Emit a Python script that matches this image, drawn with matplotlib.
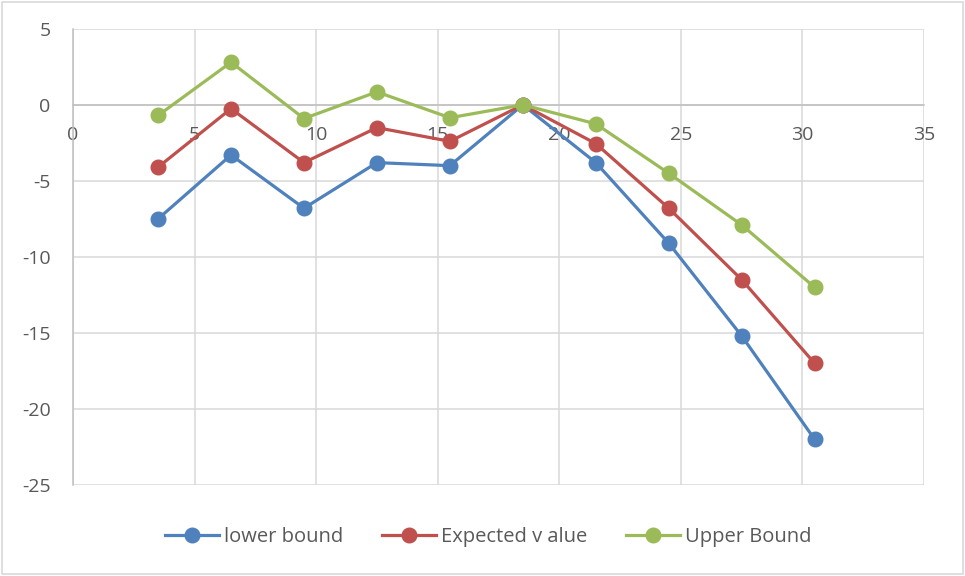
import matplotlib.pyplot as plt
from matplotlib.patches import Rectangle

plt.rcParams['font.family'] = ['Open Sans', 'DejaVu Sans']
plt.rcParams['axes.unicode_minus'] = False

x = [3.5, 6.5, 9.5, 12.5, 15.5, 18.5, 21.5, 24.5, 27.5, 30.5]
lower = [-7.5, -3.3, -6.8, -3.8, -4.0, 0.0, -3.8, -9.1, -15.2, -22.0]
expected = [-4.1, -0.25, -3.8, -1.5, -2.4, 0.0, -2.55, -6.8, -11.5, -17.0]
upper = [-0.7, 2.8, -0.9, 0.85, -0.85, 0.0, -1.25, -4.5, -7.9, -12.0]

labels = ['lower bound', 'Expected v alue', 'Upper Bound']
colors = ['#4F81BD', '#C0504D', '#9BBB59']
text_color = '#595959'

fig = plt.figure(figsize=(9.65, 5.76), dpi=100)
ax = fig.add_axes([0.0756, 0.158, 0.882, 0.792])

for ys, lab, c in zip([lower, expected, upper], labels, colors):
    ax.plot(x, ys, color=c, lw=2.3, marker='o', markersize=10.5,
            label=lab, zorder=3)

ax.set_xlim(0, 35)
ax.set_ylim(-25, 5)
ax.set_xticks(range(0, 36, 5))
ax.set_yticks(range(-25, 6, 5))
ax.grid(True, color='#D9D9D9', lw=1.1, zorder=0)

# x axis crosses at y = 0, labels sit just under it
ax.spines['bottom'].set_position(('data', 0))
ax.spines['bottom'].set_color('#BFBFBF')
ax.spines['bottom'].set_linewidth(1.1)
ax.spines['left'].set_color('#BFBFBF')
ax.spines['left'].set_linewidth(1.1)
ax.spines['top'].set_visible(False)
ax.spines['right'].set_visible(False)

ax.tick_params(axis='x', length=0, pad=15, labelsize=14, labelcolor=text_color)
ax.tick_params(axis='y', length=0, pad=16, labelsize=14, labelcolor=text_color)

ax.legend(loc='center', bbox_to_anchor=(0.488, -0.114), ncol=3, frameon=False,
          fontsize=14.5, labelcolor=text_color, handlelength=2.7,
          columnspacing=1.9, handletextpad=0.25)

# thin outer border around the chart area
fig.patches.append(Rectangle((0.002, 0.003), 0.996, 0.994, transform=fig.transFigure,
                             fill=False, edgecolor='#D9D9D9', lw=1.2))

fig.savefig('out.png', dpi=100)
